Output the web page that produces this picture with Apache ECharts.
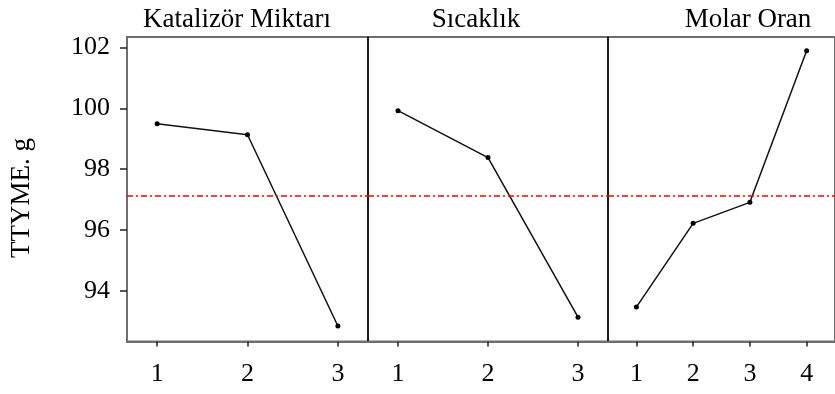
<!DOCTYPE html>
<html>
<head>
<meta charset="utf-8">
<script src="https://cdn.jsdelivr.net/npm/echarts@6/dist/echarts.min.js"></script>
<style>html,body{margin:0;padding:0;background:#fff}#c{width:835px;height:394px}</style>
</head>
<body>
<div id="c"></div>
<script>
// ---- data ----
const panelTitles = ['Katalizör Miktarı', 'Sıcaklık', 'Molar Oran'];
const levelsKatalizor = [1, 2, 3];
const levelsSicaklik = [1, 2, 3];
const levelsMolar = [1, 2, 3, 4];
const katalizor = [99.49, 99.13, 92.85];
const sicaklik = [99.92, 98.38, 93.14];
const molarOran = [93.47, 96.22, 96.91, 101.89];
const yTicks = [94, 96, 98, 100, 102];
const grandMean = 97.12;
const yAxisTitle = 'TTYME. g';

// ---- layout ----
const FONT = 'Liberation Serif';
const plotTop = 37, plotH = 304.5;
const gridBoxes = [
  {left: 127, top: plotTop, width: 241, height: plotH},
  {left: 368, top: plotTop, width: 240, height: plotH},
  {left: 608, top: plotTop, width: 240, height: plotH}
];
const levels = [levelsKatalizor, levelsSicaklik, levelsMolar];
const values = [katalizor, sicaklik, molarOran];
const pads = [1/3, 1/3, 0.5];
const yMin = 92.34, yMax = 102.34;

const chart = echarts.init(document.getElementById('c'), null, {renderer: 'canvas'});

const option = {
  animation: false,
  backgroundColor: '#fff',
  grid: gridBoxes.map(g => Object.assign({show: true, borderColor: '#6e6e6e', borderWidth: 2, backgroundColor: 'transparent'}, g)),
  xAxis: levels.map((lv, i) => ({
    type: 'value', gridIndex: i,
    min: lv[0] - pads[i], max: lv[lv.length - 1] + pads[i],
    splitLine: {show: false},
    axisLine: {show: true, lineStyle: {color: '#6e6e6e', width: 2}},
    axisTick: {show: true, customValues: lv, length: 5, lineStyle: {color: '#222', width: 1.5}},
    axisLabel: {show: true, customValues: lv, margin: 20, color: '#000', fontFamily: FONT, fontSize: 26}
  })),
  yAxis: gridBoxes.map((g, i) => ({
    type: 'value', gridIndex: i, min: yMin, max: yMax,
    splitLine: {show: false},
    axisLine: {show: true, lineStyle: {color: i === 0 ? '#6e6e6e' : '#000', width: i === 0 ? 2 : 1.5}},
    axisTick: {show: i === 0, customValues: yTicks, length: 7, lineStyle: {color: '#222', width: 1.5}},
    axisLabel: {show: i === 0, customValues: yTicks, margin: 17, color: '#000', fontFamily: FONT, fontSize: 26}
  })),
  series: values.map((v, i) => ({
    type: 'line', xAxisIndex: i, yAxisIndex: i,
    data: v.map((y, k) => [levels[i][k], y]),
    symbol: 'circle', symbolSize: 5,
    itemStyle: {color: '#000'},
    lineStyle: {color: '#111', width: 1.5},
    markLine: {
      silent: true, symbol: 'none', label: {show: false},
      lineStyle: {color: '#ff0000', width: 1.5, type: [6, 3, 2, 3]},
      data: [{yAxis: grandMean}]
    }
  })),
  graphic: [
    {type: 'text', x: 237, y: 20, style: {text: panelTitles[0], font: '27px "Liberation Serif"', fill: '#000', textAlign: 'center', textVerticalAlign: 'middle'}},
    {type: 'text', x: 476, y: 20, style: {text: panelTitles[1], font: '27px "Liberation Serif"', fill: '#000', textAlign: 'center', textVerticalAlign: 'middle'}},
    {type: 'text', x: 748, y: 20, style: {text: panelTitles[2], font: '27px "Liberation Serif"', fill: '#000', textAlign: 'center', textVerticalAlign: 'middle'}},
    {type: 'text', x: 22, y: 198, rotation: Math.PI / 2, style: {text: yAxisTitle, font: '27px "Liberation Serif"', fill: '#000', textAlign: 'center', textVerticalAlign: 'middle'}}
  ]
};
chart.setOption(option);
</script>
</body>
</html>
